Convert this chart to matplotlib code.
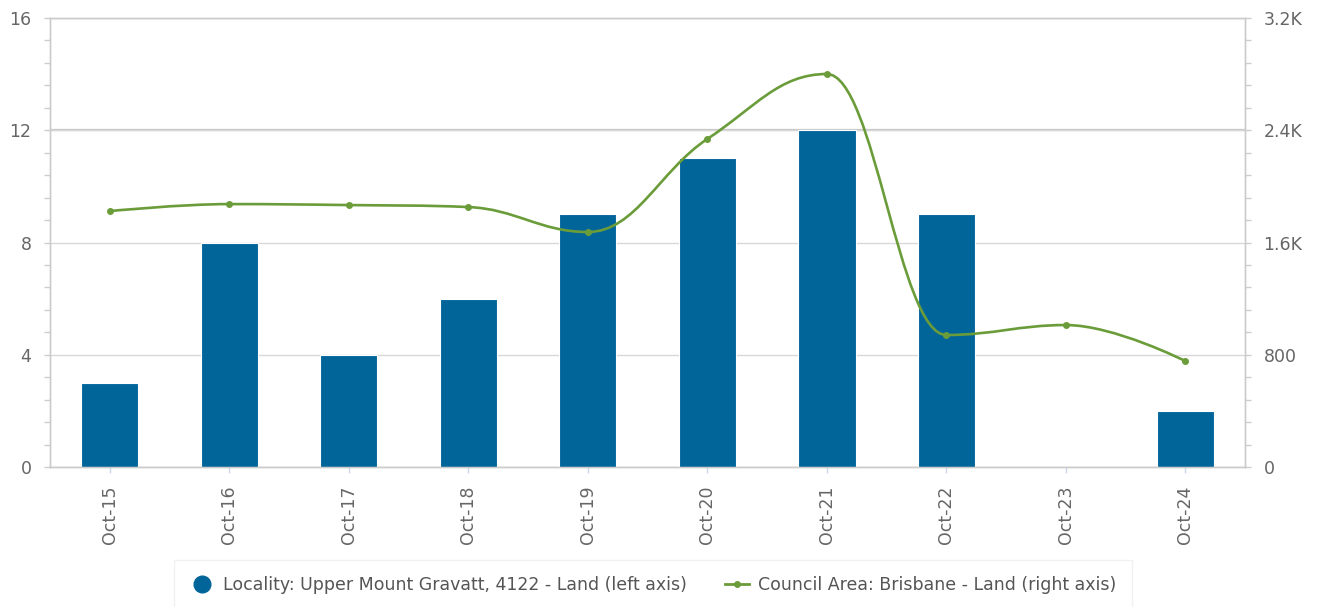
"""Bar + smoothed line chart: land sales, locality vs council area."""

import matplotlib

matplotlib.use("Agg")
import matplotlib.pyplot as plt
import numpy as np
from matplotlib.lines import Line2D
from matplotlib.patches import PathPatch
from matplotlib.path import Path
from matplotlib.ticker import FuncFormatter, MultipleLocator

# data
months = ["Oct-15", "Oct-16", "Oct-17", "Oct-18", "Oct-19",
          "Oct-20", "Oct-21", "Oct-22", "Oct-23", "Oct-24"]
locality_land = [3, 8, 4, 6, 9, 11, 12, 9, 0, 2]
council_land = [1824, 1874, 1867, 1853, 1675, 2338, 2801, 941, 1012, 755]

BAR_COLOR = "#02659a"
LINE_COLOR = "#6b9c3a"
GRID_COLOR = "#d8d8d8"
AXIS_COLOR = "#cccccc"
TEXT_COLOR = "#666666"
FONT_SIZE = 12.5


def spline_path(xs, ys, smoothing=1.5):
    """Bezier path through the points, in the style of a Highcharts spline."""
    n = len(xs)
    denom = smoothing + 1
    left = [(xs[0], ys[0])] * n
    right = [(xs[-1], ys[-1])] * n
    right[0] = (xs[0], ys[0])
    for i in range(1, n - 1):
        x, y = xs[i], ys[i]
        lx, ly = xs[i - 1], ys[i - 1]
        nx, ny = xs[i + 1], ys[i + 1]
        lcx = (smoothing * x + lx) / denom
        lcy = (smoothing * y + ly) / denom
        rcx = (smoothing * x + nx) / denom
        rcy = (smoothing * y + ny) / denom
        corr = (rcy - lcy) * (rcx - x) / (rcx - lcx) + y - rcy
        lcy += corr
        rcy += corr
        if lcy > ly and lcy > y:
            lcy = max(ly, y)
            rcy = 2 * y - lcy
        elif lcy < ly and lcy < y:
            lcy = min(ly, y)
            rcy = 2 * y - lcy
        if rcy > ny and rcy > y:
            rcy = max(ny, y)
            lcy = 2 * y - rcy
        elif rcy < ny and rcy < y:
            rcy = min(ny, y)
            lcy = 2 * y - rcy
        left[i] = (lcx, lcy)
        right[i] = (rcx, rcy)
    left[-1] = (xs[-1], ys[-1])

    verts = [(xs[0], ys[0])]
    codes = [Path.MOVETO]
    for i in range(1, n):
        verts += [right[i - 1], left[i], (xs[i], ys[i])]
        codes += [Path.CURVE4] * 3
    return Path(verts, codes)


fig = plt.figure(figsize=(13.19, 6.07), dpi=100)
ax = fig.add_axes([0.0379, 0.2306, 0.9061, 0.7397])
ax2 = ax.twinx()

x = np.arange(len(months))
ax.bar(x, locality_land, width=0.48, color=BAR_COLOR, edgecolor="white",
       linewidth=0.8, zorder=3)

ax.set_xlim(-0.5, len(months) - 0.5)
ax.set_ylim(0, 16)
ax2.set_ylim(0, 3200)

ax.yaxis.set_major_locator(MultipleLocator(4))
ax.yaxis.set_minor_locator(MultipleLocator(0.8))
ax2.yaxis.set_major_locator(MultipleLocator(800))
ax2.yaxis.set_minor_locator(MultipleLocator(160))


def k_fmt(v, _pos):
    if v < 1000:
        return f"{v:.0f}"
    return f"{v / 1000:.1f}K"


ax2.yaxis.set_major_formatter(FuncFormatter(k_fmt))

ax.set_xticks(x)
ax.set_xticklabels(months, rotation=90)

# grid lives on the bar axis so the bars cover it
ax.grid(axis="y", color=GRID_COLOR, linewidth=1.0, zorder=0)
ax.axhline(12, color="#c6c6c6", linewidth=1.6, zorder=0.5)
ax.set_axisbelow(True)

for a in (ax, ax2):
    for sp in a.spines.values():
        sp.set_color(AXIS_COLOR)
        sp.set_linewidth(1.0)
    a.tick_params(axis="y", which="both", length=4.3, width=1,
                  color=AXIS_COLOR, labelcolor=TEXT_COLOR,
                  labelsize=FONT_SIZE, pad=9)
ax.tick_params(axis="x", length=4.3, width=1, color="#ccd6eb",
               labelcolor=TEXT_COLOR, labelsize=FONT_SIZE, pad=9)

# smoothed council line on the right axis
path = spline_path(list(x.astype(float)), [float(v) for v in council_land])
ax2.add_patch(PathPatch(path, facecolor="none", edgecolor=LINE_COLOR,
                        linewidth=1.9, zorder=4))
ax2.plot(x, council_land, linestyle="none", marker="o", markersize=4,
         color=LINE_COLOR, zorder=5)

handles = [
    Line2D([], [], linestyle="none", marker="o", markersize=12,
           color=BAR_COLOR),
    Line2D([], [], color=LINE_COLOR, linewidth=2, marker="o", markersize=4),
]
labels = ["Locality: Upper Mount Gravatt, 4122 - Land (left axis)",
          "Council Area: Brisbane - Land (right axis)"]
leg = fig.legend(handles, labels, loc="upper center", ncol=2,
                 bbox_to_anchor=(0.495, 0.091), frameon=True, fancybox=False,
                 fontsize=FONT_SIZE, handlelength=1.4, handletextpad=0.5,
                 columnspacing=2.2, borderpad=0.9, labelcolor="#555555")
leg.get_frame().set_edgecolor("#eeeeee")
leg.get_frame().set_linewidth(1.0)

fig.savefig("out.png", dpi=100)
